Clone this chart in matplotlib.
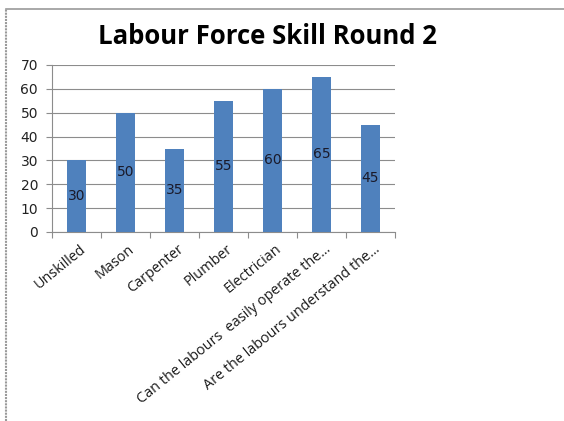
import matplotlib.pyplot as plt
from matplotlib.lines import Line2D

categories = ["Unskilled", "Mason", "Carpenter", "Plumber", "Electrician",
              "Can the labours  easily operate the...",
              "Are the labours understand the..."]
values = [30, 50, 35, 55, 60, 65, 45]
y_ticks = [0, 10, 20, 30, 40, 50, 60, 70]

fig = plt.figure(figsize=(5.64, 4.21), dpi=100)
ax = fig.add_axes([52 / 564, 1 - 232 / 421, 343 / 564, 167 / 421])

x = range(len(categories))
bars = ax.bar(x, values, width=0.39, color="#4F81BD", zorder=3)

# value labels sit in the middle of each bar
for xi, v in zip(x, values):
    ax.text(xi, v / 2, str(v), ha="center", va="center",
            fontsize=10, color="#1a1a2a", zorder=4)

ax.set_xlim(-0.5, len(categories) - 0.5)
ax.set_ylim(0, 70)
ax.set_yticks(y_ticks)
ax.set_yticklabels([str(t) for t in y_ticks], fontsize=10, color="#222222")
ax.yaxis.grid(True, color="#8c8c8c", linewidth=0.8, zorder=0)
ax.tick_params(axis="y", length=4, color="#8c8c8c", pad=6)

# category ticks between the bars, labels at the bar centres
ax.set_xticks([i - 0.5 for i in range(len(categories) + 1)])
ax.set_xticklabels([])
ax.tick_params(axis="x", length=4, color="#8c8c8c")
for xi, lab in zip(x, categories):
    ax.annotate(lab, xy=(xi, 0), xycoords=("data", "axes fraction"),
                xytext=(2, -7), textcoords="offset points",
                rotation=39, ha="right", va="top", rotation_mode="anchor",
                fontsize=10.4, family="Open Sans", color="#1a1a1a")

for side in ["top", "right"]:
    ax.spines[side].set_visible(False)
ax.spines["left"].set_color("#8c8c8c")
ax.spines["bottom"].set_color("#8c8c8c")

fig.text(267 / 564, 1 - 37 / 421, "Labour Force Skill Round 2",
         ha="center", va="center", fontsize=18.5, fontweight="bold",
         family="Open Sans", color="black")

# outer chart frame (left and top edges)
fig.add_artist(Line2D([6 / 564, 6 / 564], [0, 1 - 9 / 421],
                      transform=fig.transFigure, color="#9a9a9a",
                      linewidth=1.5, linestyle=(0, (1, 0.5))))
fig.add_artist(Line2D([6 / 564, 1], [1 - 9 / 421, 1 - 9 / 421],
                      transform=fig.transFigure, color="#9a9a9a",
                      linewidth=1.2))

fig.savefig("out.png", dpi=100)
